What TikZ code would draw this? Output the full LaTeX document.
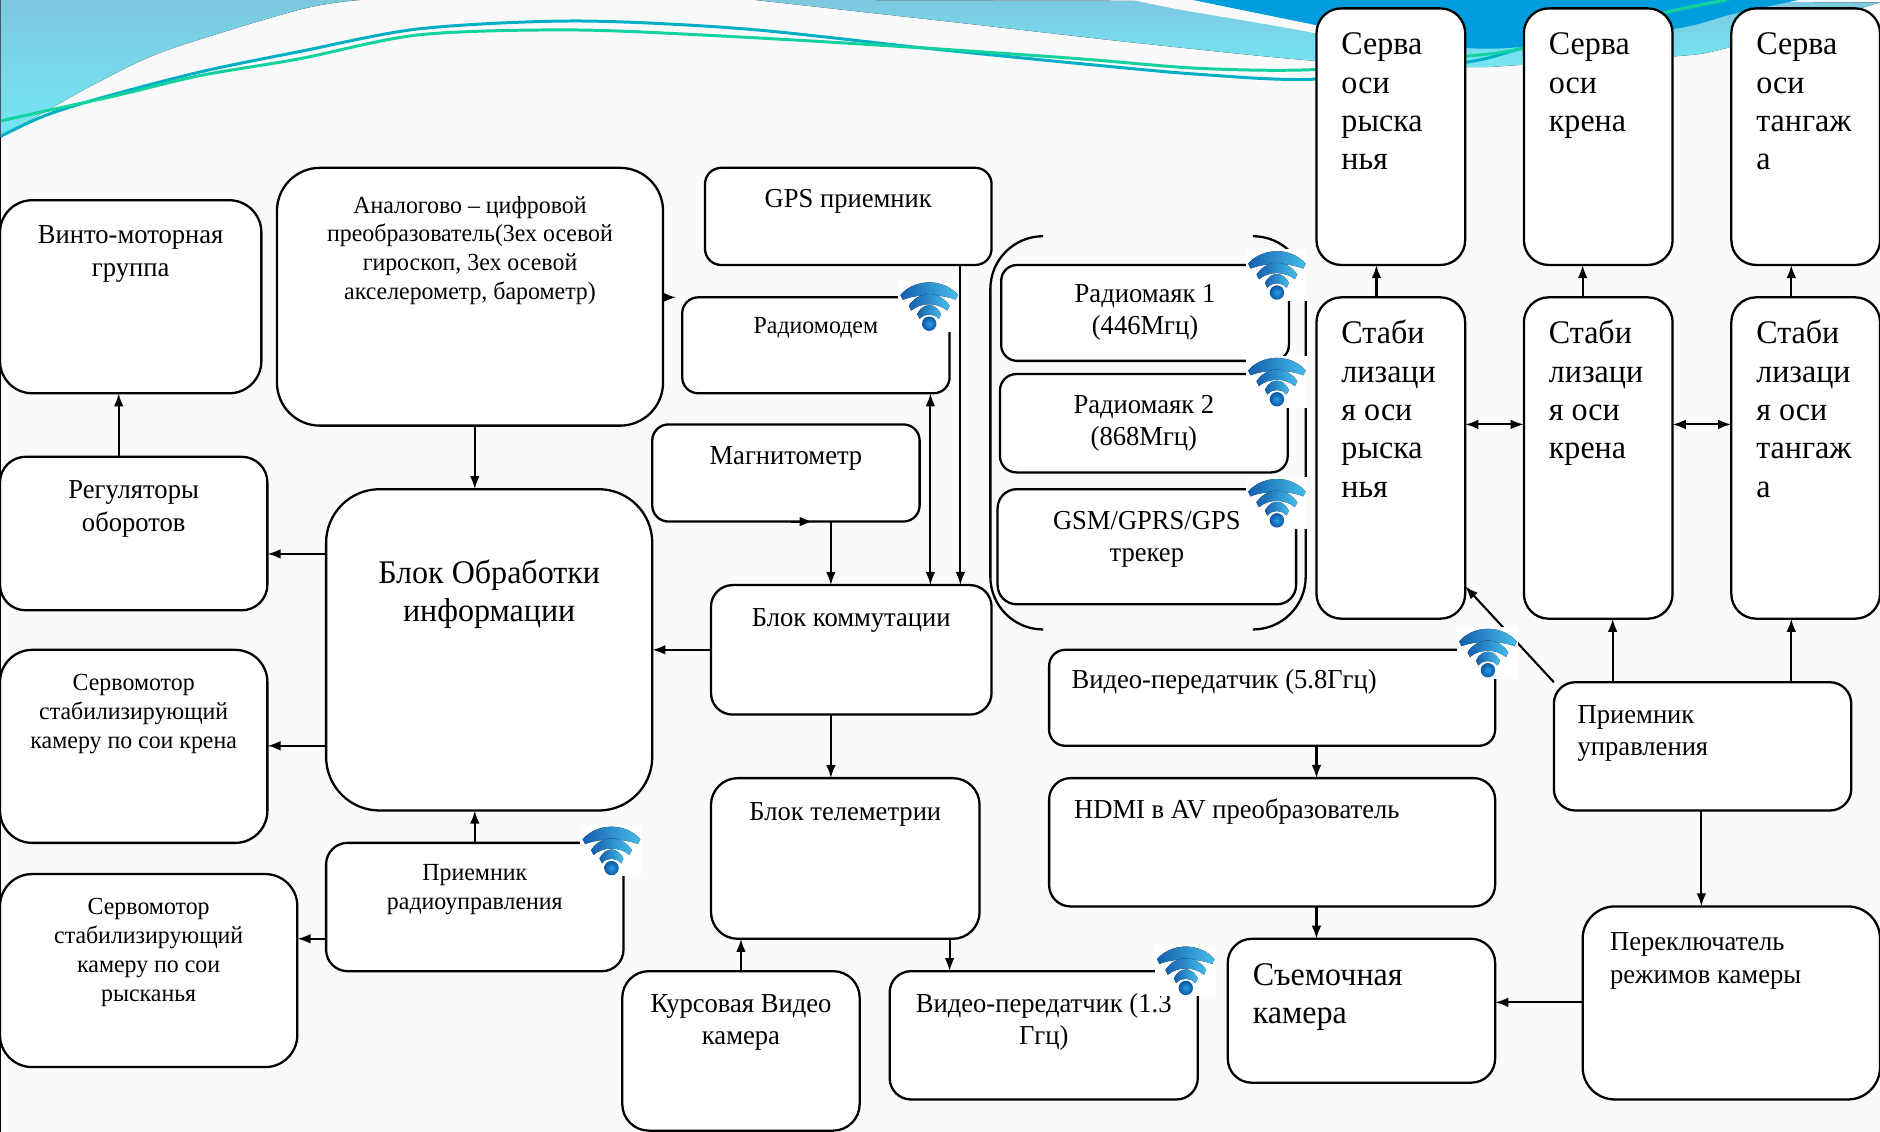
\documentclass[tikz,border=0pt]{standalone}
\usepackage{fontspec}
\setmainfont[FakeStretch=0.97]{Liberation Serif}
\usetikzlibrary{arrows.meta}

\definecolor{paper}{HTML}{FAFAFA}
\definecolor{bandtop}{HTML}{7CC8DF}
\definecolor{bandlow}{HTML}{74E6F2}
\definecolor{deepblue}{HTML}{009DDE}
\definecolor{linea}{HTML}{00AFC6}
\definecolor{lineb}{HTML}{12D2A0}
\definecolor{wifia}{HTML}{155FAE}
\definecolor{wifim}{HTML}{1F7FCC}
\definecolor{wifib}{HTML}{45BDEB}
\definecolor{wific}{HTML}{2A9BE8}
\definecolor{wifid}{HTML}{0B55A2}

\tikzset{
  blk/.style={draw=black,fill=white,line width=1.3pt,inner sep=0pt,outer sep=0pt,anchor=north west},
  bigtxt/.style={font=\fontsize{18.8}{21.8}\selectfont},
  midtxt/.style={font=\fontsize{15.6}{18.4}\selectfont},
  smalltxt/.style={font=\fontsize{14}{16.4}\selectfont},
  arr/.style={line width=1.2pt,-{Latex[length=7.5pt,width=5.5pt]}},
  arrr/.style={line width=1.2pt,{Latex[length=7.5pt,width=5.5pt]}-{Latex[length=7.5pt,width=5.5pt]}},
  wave/.style={line width=1.7pt,smooth}
}

\newcommand{\lft}{\raggedright\leftskip=0.5cm\relax}

% [name]{x1}{y1}{x2}{y2}{style}{top pad}{text}
\newcommand{\blk}[8][]{
  \pgfmathsetlengthmacro\blkw{(#4-#2)*0.02398cm}
  \pgfmathsetlengthmacro\blkh{(#5-#3)*0.02398cm}
  \pgfmathsetlengthmacro\blkr{min(#4-#2,#5-#3)*0.02398cm/6}
  \node (#1) [blk,rounded corners=\blkr,#6] at (#2,#3) {\parbox[c][\blkh][t]{\blkw}{\centering\vspace*{#7}#8}};
}

\newcommand{\wifi}[2]{
  \begin{scope}[shift={(#1,#2)}]
    \fill [white] (-26,-36) rectangle (25,7);
    \foreach \w/\t/\a/\b in {24/-24/-38/-25, 17/-15/-28/-18, 10/-8/-18/-9}{
      \fill [left color=wifia,middle color=wifim,right color=wifib]
        (-\w,\t) .. controls (-\w*0.5,\a) and (\w*0.5,\a) .. (\w,\t)
        -- (\w-2,\t+4) .. controls (\w*0.4,\b) and (-\w*0.4,\b) .. (-\w+2,\t+4) -- cycle;
    }
    \shade [inner color=wific,outer color=wifid] (0,0) circle (6);
  \end{scope}
}

\begin{document}
\begin{tikzpicture}[x=0.02398cm,y=-0.02398cm]
  \useasboundingbox (0,0) rectangle (1568,944);
  \clip (0,0) rectangle (1568,944);
  \fill [paper] (0,0) rectangle (1568,944);

  \fill [top color=bandtop,bottom color=bandlow] plot [smooth] coordinates {(0,114) (36,94) (83,68) (139,42) (250,8) (300,0)} -- (0,0) -- cycle;
  \fill [top color=bandtop,bottom color=bandlow] plot [smooth] coordinates {(630,0) (800,19) (950,36) (1100,51) (1222,56) (1271,54) (1397,47) (1444,39) (1568,2)} -- cycle;
  \fill [paper] plot [smooth] coordinates {(945,0) (984,8) (1098,28) (1180,50)} -- (1180,0) -- cycle;
  \fill [deepblue] plot [smooth] coordinates {(995,0) (1098,21) (1160,33) (1222,40) (1271,39) (1397,24) (1444,12) (1500,0)} -- cycle;
  \draw [wave,linea] plot coordinates {(0,114) (36,97) (83,82) (167,60) (250,43) (350,24) (480,17.5) (620,24) (770,40) (900,53) (1000,62) (1097,66) (1222,52) (1271,40) (1390,11) (1443,0)};
  \draw [wave,lineb] plot coordinates {(0,101) (36,93) (100,79) (167,63) (250,49) (350,29) (480,25) (620,31) (770,40) (900,49) (1000,57) (1097,58) (1222,47) (1271,40) (1390,10) (1440,0)};
  \draw [line width=1pt,black!70!cyan] (0.5,0) -- (0.5,114);
  \draw [line width=1pt,black] (0.5,114) -- (0.5,944);

  \draw [line width=1.3pt] (870,197) arc (270:180:44) -- (826,481) arc (180:90:44);
  \draw [line width=1.3pt] (1045,197) arc (-90:0:44) -- (1089,481) arc (0:90:44);

  \blk[vmg]{0}{167}{218}{328}{midtxt}{14.7pt}{Винто-моторная\\группа}
  \blk[reg]{0}{381}{223}{509}{midtxt}{13.7pt}{Регуляторы\\оборотов}
  \blk[srk]{0}{542}{223}{703}{smalltxt}{14pt}{Сервомотор\\стабилизирующий\\камеру по сои крена}
  \blk[srs]{0}{729}{248}{890}{smalltxt}{14pt}{Сервомотор\\стабилизирующий\\камеру по сои\\рысканья}
  \blk[adc]{231}{140}{553}{355}{smalltxt}{16pt}{Аналогово -- цифровой\\преобразователь(3ех осевой\\гироскоп, 3ех осевой\\акселерометр, барометр)}
  \blk[bob]{272}{408}{544}{676}{bigtxt}{40pt}{Блок Обработки\\информации}
  \blk[prm]{272}{703}{520}{810}{smalltxt}{12.4pt}{Приемник\\радиоуправления}
  \blk[gps]{588}{140}{827}{221}{midtxt}{12.5pt}{GPS приемник}
  \blk[rmd]{569}{248}{792}{328}{smalltxt}{11.2pt}{Радиомодем}
  \blk[mag]{544}{354}{767}{435}{midtxt}{12.7pt}{Магнитометр}
  \blk[bkm]{593}{488}{827}{596}{midtxt}{13.4pt}{Блок коммутации}
  \blk[btm]{593}{649}{817}{783}{midtxt}{14pt}{Блок телеметрии}
  \blk[kvk]{519}{810}{717}{943}{midtxt}{13.3pt}{Курсовая Видео\\камера}
  \blk[vtl]{742}{810}{999}{917}{midtxt}{12.7pt}{Видео-передатчик (1.3\\Ггц)}
  \blk[cam]{1024}{783}{1247}{903}{bigtxt}{14pt}{\lft Съемочная\\камера}
  \blk[hdm]{875}{649}{1247}{756}{midtxt}{12pt}{\lft HDMI в AV преобразователь}
  \blk[vth]{875}{542}{1247}{622}{midtxt}{11.3pt}{\lft\hspace*{-1.4pt}Видео-передатчик (5.8Ггц)}
  \blk[rma]{835}{221}{1075}{301}{midtxt}{11pt}{Радиомаяк 1\\(446Мгц)}
  \blk[rmb]{834}{312}{1074}{394}{midtxt}{12pt}{Радиомаяк 2\\(868Мгц)}
  \blk[gsm]{832}{408}{1081}{504}{midtxt}{12.4pt}{GSM/GPRS/GPS\\трекер}
  \blk[srv]{1098}{7}{1222}{221}{bigtxt}{14pt}{\lft Серва\\оси\\рыска\\нья}
  \blk[skr]{1271}{7}{1395}{221}{bigtxt}{14pt}{\lft Серва\\оси\\крена}
  \blk[stn]{1444}{7}{1568}{221}{bigtxt}{14pt}{\lft Серва\\оси\\тангаж\\а}
  \blk[sta]{1098}{248}{1222}{516}{bigtxt}{13pt}{\lft Стаби\\лизаци\\я оси\\рыска\\нья}
  \blk[stb]{1271}{248}{1395}{516}{bigtxt}{13pt}{\lft Стаби\\лизаци\\я оси\\крена}
  \blk[stc]{1444}{248}{1568}{516}{bigtxt}{13pt}{\lft Стаби\\лизаци\\я оси\\тангаж\\а}
  \blk[pru]{1296}{569}{1544}{676}{midtxt}{13pt}{\lft\hspace*{-0.7pt}Приемник\\\hspace*{-0.7pt}управления}
  \blk[pkr]{1320}{756}{1568}{917}{midtxt}{15pt}{\lft\hspace*{1.4pt}Переключатель\\\hspace*{1.4pt}режимов камеры}

  \draw [arr] (reg.north -| 99,0) -- (vmg.south -| 99,0);
  \draw [arr] (adc.south -| 396,0) -- (bob.north -| 396,0);
  \draw [arr] (bob.west |- 0,462) -- (reg.east |- 0,462);
  \draw [arr] (bob.west |- 0,622) -- (srk.east |- 0,622);
  \draw [arr] (prm.north -| 396,0) -- (bob.south -| 396,0);
  \draw [arr] (prm.west |- 0,783) -- (srs.east |- 0,783);
  \draw [arr] (bkm.west |- 0,542) -- (bob.east |- 0,542);
  \draw [arr] (bkm.south -| 693,0) -- (btm.north -| 693,0);
  \draw [arr] (mag.south -| 693,0) -- (bkm.north -| 693,0);
  \draw [arrr] (rmd.south -| 776,0) -- (bkm.north -| 776,0);
  \draw [arr] (gps.south -| 801,0) -- (bkm.north -| 801,0);
  \draw [arr] (adc.east |- 0,248) -- (564,248);
  \draw [arr] (660,435) -- (678,435);
  \draw [arr] (btm.south -| 792,0) -- (vtl.north -| 792,0);
  \draw [arr] (kvk.north -| 618,0) -- (btm.south -| 618,0);
  \draw [arr] (vth.south -| 1098,0) -- (hdm.north -| 1098,0);
  \draw [arr] (hdm.south -| 1098,0) -- (cam.north -| 1098,0);
  \draw [arr] (pkr.west |- 0,836) -- (cam.east |- 0,836);
  \draw [arr] (pru.south -| 1419,0) -- (pkr.north -| 1419,0);
  \draw [arr] (pru.north -| 1345,0) -- (stb.south -| 1345,0);
  \draw [arr] (pru.north -| 1494,0) -- (stc.south -| 1494,0);
  \draw [arr] (pru.north west) -- (sta.east |- 0,489);
  \draw [arr] (sta.north -| 1148,0) -- (srv.south -| 1148,0);
  \draw [arr] (stb.north -| 1320,0) -- (skr.south -| 1320,0);
  \draw [arr] (stc.north -| 1494,0) -- (stn.south -| 1494,0);
  \draw [arrr] (sta.east |- 0,354) -- (stb.west |- 0,354);
  \draw [arrr] (stb.east |- 0,354) -- (stc.west |- 0,354);

  \wifi{775}{270}
  \wifi{1065}{244}
  \wifi{1065}{333}
  \wifi{1065}{434}
  \wifi{1241}{559}
  \wifi{510}{724}
  \wifi{989}{824}
\end{tikzpicture}
\end{document}
